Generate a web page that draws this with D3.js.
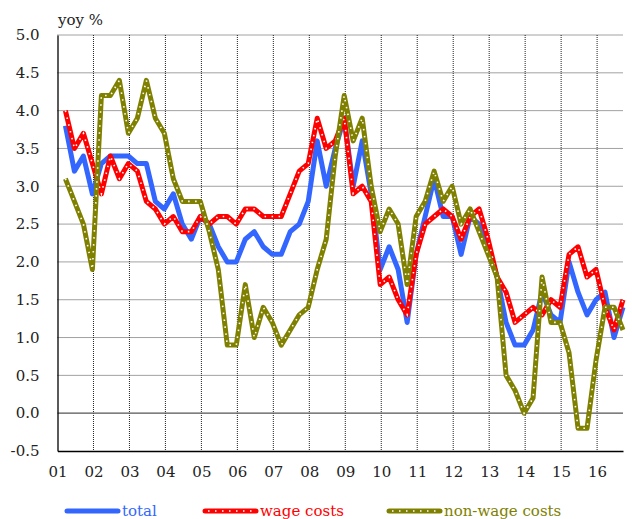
<!DOCTYPE html>
<html>
<head>
<meta charset="utf-8">
<script src="https://cdn.jsdelivr.net/npm/d3@7"></script>
<style>
body { margin: 0; background: #fff; }
svg text { font-family: "DejaVu Serif", "Liberation Serif", serif !important; }
</style>
</head>
<body>
<div id="chart"></div>
<script>
// quarterly data, 2001Q1 - 2016Q3
var quarters = [
  "01Q1","01Q2","01Q3","01Q4","02Q1","02Q2","02Q3","02Q4","03Q1","03Q2","03Q3","03Q4",
  "04Q1","04Q2","04Q3","04Q4","05Q1","05Q2","05Q3","05Q4","06Q1","06Q2","06Q3","06Q4",
  "07Q1","07Q2","07Q3","07Q4","08Q1","08Q2","08Q3","08Q4","09Q1","09Q2","09Q3","09Q4",
  "10Q1","10Q2","10Q3","10Q4","11Q1","11Q2","11Q3","11Q4","12Q1","12Q2","12Q3","12Q4",
  "13Q1","13Q2","13Q3","13Q4","14Q1","14Q2","14Q3","14Q4","15Q1","15Q2","15Q3","15Q4",
  "16Q1","16Q2","16Q3"
]
var total = [
  3.8,3.2,3.4,2.9, 3.3,3.4,3.4,3.4, 3.3,3.3,2.8,2.7, 2.9,2.5,2.3,2.6,
  2.5,2.2,2.0,2.0, 2.3,2.4,2.2,2.1, 2.1,2.4,2.5,2.8, 3.6,3.0,3.5,3.9,
  3.0,3.6,2.9,1.9, 2.2,1.9,1.2,2.1, 2.6,3.1,2.6,2.6, 2.1,2.6,2.5,2.2,
  1.8,1.2,0.9,0.9, 1.1,1.6,1.3,1.2, 2.0,1.6,1.3,1.5, 1.6,1.0,1.4
]
var wageCosts = [
  4.0,3.5,3.7,3.3, 2.9,3.4,3.1,3.3, 3.2,2.8,2.7,2.5, 2.6,2.4,2.4,2.6,
  2.5,2.6,2.6,2.5, 2.7,2.7,2.6,2.6, 2.6,2.9,3.2,3.3, 3.9,3.5,3.6,3.9,
  2.9,3.0,2.8,1.7, 1.8,1.5,1.3,2.1, 2.5,2.6,2.7,2.6, 2.3,2.6,2.7,2.3,
  1.8,1.6,1.2,1.3, 1.4,1.3,1.5,1.4, 2.1,2.2,1.8,1.9, 1.4,1.1,1.5
]
var nonWageCosts = [
  3.1,2.8,2.5,1.9, 4.2,4.2,4.4,3.7, 3.9,4.4,3.9,3.7, 3.1,2.8,2.8,2.8,
  2.4,1.9,0.9,0.9, 1.7,1.0,1.4,1.2, 0.9,1.1,1.3,1.4, 1.9,2.3,3.4,4.2,
  3.6,3.9,3.0,2.4, 2.7,2.5,1.7,2.6, 2.8,3.2,2.8,3.0, 2.5,2.7,2.4,2.1,
  1.8,0.5,0.3,0.0, 0.2,1.8,1.2,1.2, 0.8,-0.2,-0.2,0.7, 1.4,1.4,1.1
]
var yearLabels = ["01","02","03","04","05","06","07","08","09","10","11","12","13","14","15","16"]
var yTicks = [-0.5,0.0,0.5,1.0,1.5,2.0,2.5,3.0,3.5,4.0,4.5,5.0]

var series = [
  {name: "total", values: total, color: "#3366ff", dots: false},
  {name: "wage costs", values: wageCosts, color: "#ff0000", dots: true},
  {name: "non-wage costs", values: nonWageCosts, color: "#808000", dots: true}
]

var FONT = "'DejaVu Serif', 'Liberation Serif', serif"
var FS = 15
var W = 632, H = 519
var margin = {top: 35, right: 9, bottom: 68, left: 57.5}
var width = W - margin.left - margin.right
var height = H - margin.top - margin.bottom

// quarter -> decimal year, point sits near the end of its quarter
function qTime(q){
    var yr = 2000 + (+q.slice(0, 2))
    var n = +q.slice(3)
    return yr + (n - 0.12) / 4
}
function yearOf(lbl){ return 2000 + (+lbl) }

var svg = d3.select("#chart").append("svg")
    .attr("width", W)
    .attr("height", H)
    .style("font-family", FONT)

var g = svg.append("g")
    .attr("transform", "translate(" + margin.left + "," + margin.top + ")")

var x = d3.scaleLinear().domain([2001, 2016.72]).range([0, width])
var y = d3.scaleLinear().domain([-0.5, 5.0]).range([height, 0])

// horizontal grid
g.selectAll(".hgrid")
    .data(yTicks.filter(function(d){ return d > 0.01 }))
  .enter().append("line")
    .attr("x1", 0).attr("x2", width)
    .attr("y1", function(d){ return y(d) }).attr("y2", function(d){ return y(d) })
    .attr("stroke", "#444")
    .attr("stroke-width", 1)
    .attr("stroke-dasharray", "1,1")

// vertical grid
g.selectAll(".vgrid")
    .data(yearLabels.slice(1))
  .enter().append("line")
    .attr("x1", function(d){ return x(yearOf(d)) }).attr("x2", function(d){ return x(yearOf(d)) })
    .attr("y1", 0).attr("y2", height)
    .attr("stroke", "#222")
    .attr("stroke-width", 1)
    .attr("stroke-dasharray", "1,1")

// zero line
g.append("line")
    .attr("x1", 0).attr("x2", width)
    .attr("y1", y(0)).attr("y2", y(0))
    .attr("stroke", "#555")
    .attr("stroke-width", 1.2)

// axes
var yAxis = d3.axisLeft(y)
    .tickValues(yTicks)
    .tickFormat(function(d){ return d.toFixed(1) })
    .tickSize(0)
    .tickPadding(18)
var yg = g.append("g").call(yAxis).attr("font-family", FONT)
yg.select(".domain").attr("stroke", "#000").attr("stroke-width", 1.3)
yg.selectAll("text").attr("font-size", FS).attr("fill", "#222")

var xAxis = d3.axisBottom(x)
    .tickValues(yearLabels.map(yearOf))
    .tickFormat(function(d, i){ return yearLabels[i] })
    .tickSize(0)
    .tickPadding(15)
var xg = g.append("g").attr("transform", "translate(0," + height + ")").call(xAxis)
    .attr("font-family", FONT)
xg.select(".domain").attr("stroke", "#000").attr("stroke-width", 1.3)
xg.selectAll("text").attr("font-size", FS).attr("fill", "#222")

// y unit label
svg.append("text")
    .attr("x", 58).attr("y", 25)
    .attr("font-size", FS)
    .attr("fill", "#222")
    .text("yoy %")

// lines
var line = d3.line()
    .x(function(d){ return x(d.t) })
    .y(function(d){ return y(d.v) })

series.forEach(function(s){
    var pts = s.values.map(function(v, i){ return {t: qTime(quarters[i]), v: v} })
    g.append("path")
        .datum(pts)
        .attr("d", line)
        .attr("fill", "none")
        .attr("stroke", s.color)
        .attr("stroke-width", 5)
        .attr("stroke-linejoin", "round")
    if (s.dots){
        g.append("path")
            .datum(pts)
            .attr("d", line)
            .attr("fill", "none")
            .attr("stroke", "#fff")
            .attr("stroke-width", 1.6)
            .attr("stroke-dasharray", "1.5,5.5")
    }
})

// legend
var legendX = [67, 205, 389]
var legend = svg.append("g")
series.forEach(function(s, i){
    var lg = legend.append("g").attr("transform", "translate(" + legendX[i] + ",511)")
    lg.append("line")
        .attr("x1", 0).attr("x2", 51)
        .attr("stroke", s.color)
        .attr("stroke-width", 5)
        .attr("stroke-linecap", "round")
    if (s.dots){
        lg.append("line")
            .attr("x1", 3).attr("x2", 49)
            .attr("stroke", "#fff")
            .attr("stroke-width", 1.6)
            .attr("stroke-dasharray", "1.5,5.5")
    }
    lg.append("text")
        .attr("x", 55).attr("y", 5)
        .attr("font-size", FS)
        .attr("fill", s.color)
        .text(s.name)
})
</script>
</body>
</html>
